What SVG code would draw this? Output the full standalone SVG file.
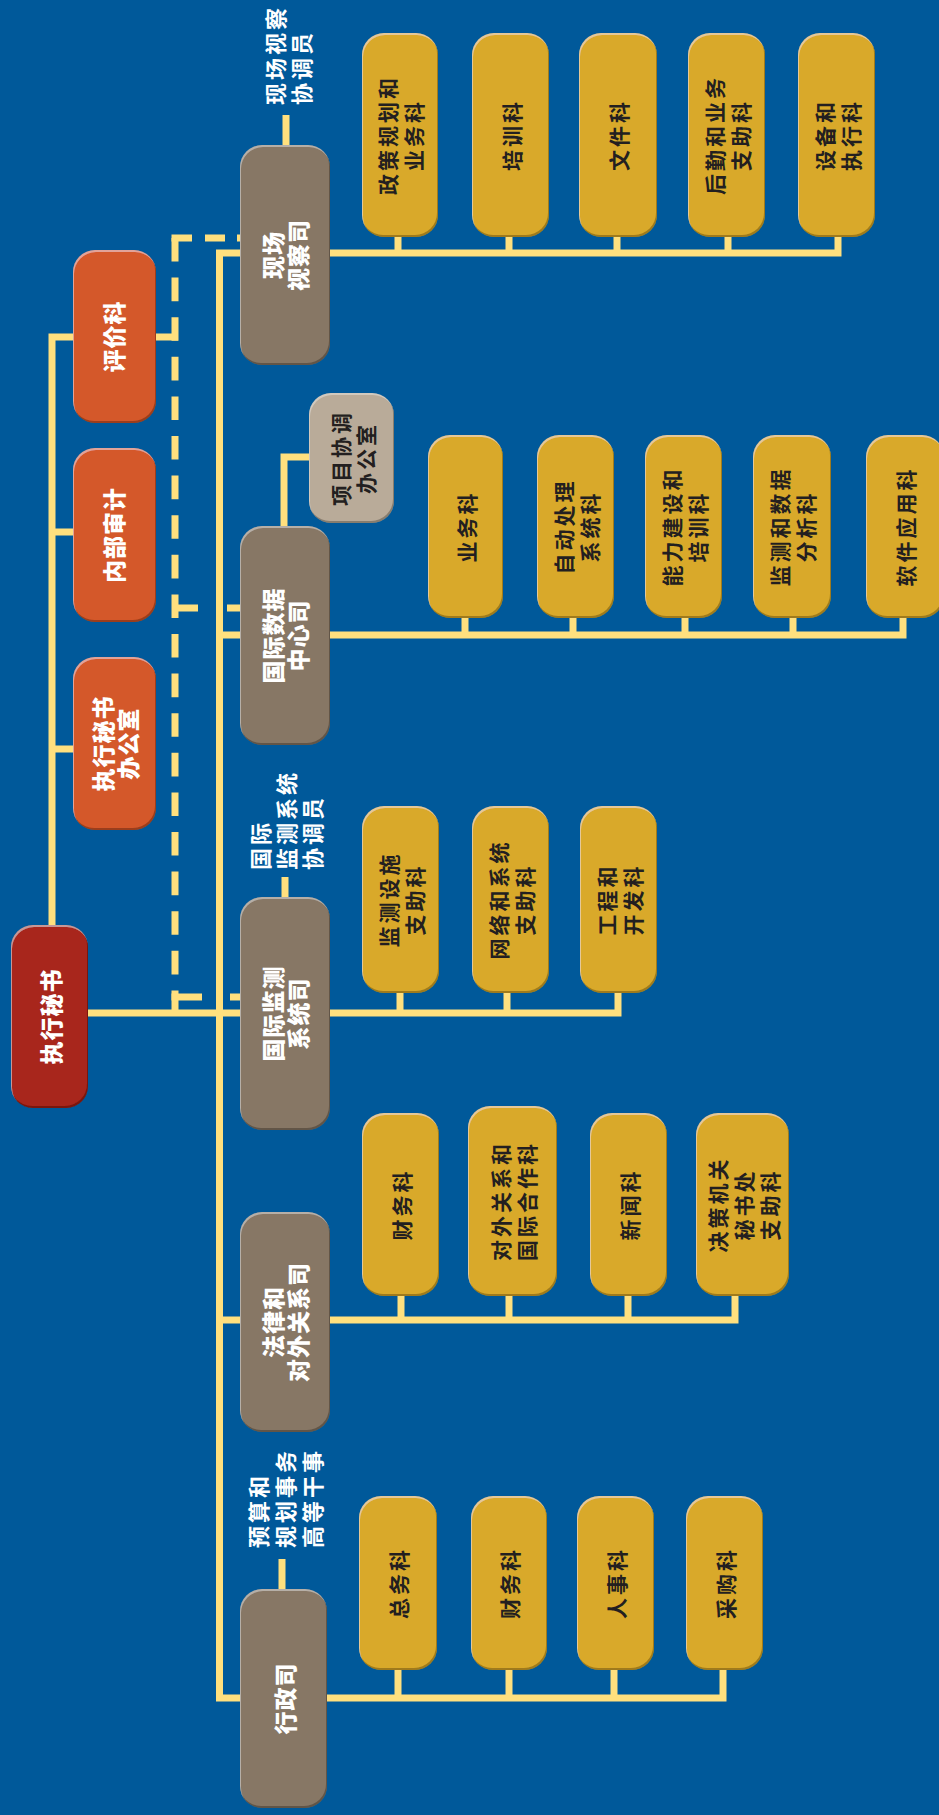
<svg xmlns="http://www.w3.org/2000/svg" width="939" height="1815" viewBox="0 0 939 1815">
<defs>
<filter id="bev" x="-5%" y="-5%" width="110%" height="110%">
<feOffset in="SourceAlpha" dx="-1.5" dy="-2.5" result="o1"/>
<feComposite in="SourceAlpha" in2="o1" operator="out" result="e1"/>
<feGaussianBlur in="e1" stdDeviation="0.6" result="e1b"/>
<feFlood flood-color="#000" flood-opacity="0.5"/>
<feComposite in2="e1b" operator="in" result="dark"/>
<feOffset in="SourceAlpha" dx="1" dy="1.5" result="o2"/>
<feComposite in="SourceAlpha" in2="o2" operator="out" result="e2"/>
<feFlood flood-color="#fff" flood-opacity="0.3"/>
<feComposite in2="e2" operator="in" result="light"/>
<feMerge><feMergeNode in="SourceGraphic"/><feMergeNode in="dark"/><feMergeNode in="light"/></feMerge>
</filter>
</defs>
<style>
.ln{fill:none;stroke:#FFE07E;stroke-width:7;stroke-linejoin:miter}
.dash{stroke-dasharray:23.6 16}
rect{filter:url(#bev)}
.red{fill:#A8281E}
.org{fill:#D4582A}
.tau{fill:#877765}
.lt{fill:#B9AB99}
.gold{fill:#D9A92B}
text,tspan{font-family:"Noto Sans CJK SC","Noto Sans",sans-serif;dominant-baseline:central}
.w{fill:#fff;font-size:23px;font-weight:900;letter-spacing:1px;text-anchor:middle}
.d{fill:#231F20;font-size:21px;font-weight:700;letter-spacing:3px;text-anchor:middle}
.lb{fill:#fff;font-size:22px;font-weight:700;letter-spacing:3px;text-anchor:start}
</style>
<rect x="0" y="0" width="939" height="1815" fill="#00599A" style="filter:none"/>
<g id="connectors">
<path class="ln" d="M73,337H52V925M52,532H73M52,749H73M156,337H178"/>
<path class="ln" d="M240,253H219.5V1698H240M219.5,635H240M219.5,1320H240"/>
<path class="ln dash" d="M175,238V1010"/>
<path class="ln" d="M171.5,238H192M205,238H225M237,238H240M175,608H198M227,608H240M171.5,997H202M230,997H240"/>
<path class="ln" d="M330,253H838V237M398,237V253M509,237V253M617,237V253M728,237V253"/>
<path class="ln" d="M330,635H903V618M465,618V635M573,618V635M685,618V635M793,618V635"/>
<path class="ln" d="M284,526V457H309"/>
<path class="ln" d="M88,1013H618V993M400,993V1013M507,993V1013"/>
<path class="ln" d="M330,1320H735V1296M401,1296V1320M509,1296V1320M628,1296V1320"/>
<path class="ln" d="M327,1698H723V1670M398,1670V1698M509,1670V1698M614,1670V1698"/>
<path class="ln" d="M286,115V145M285,877V897M282,1559V1589"/>
</g>
<g id="exec"><rect class="red" x="11" y="925" width="77" height="183" rx="22"/>
<text class="w" transform="translate(49.5,1016.5) rotate(-90)"><tspan x="0" y="0">执行秘书</tspan></text></g>
<g id="eval"><rect class="org" x="73" y="250" width="83" height="173" rx="22"/>
<text class="w" transform="translate(113,336.5) rotate(-90)"><tspan x="0" y="0">评价科</tspan></text></g>
<g id="audit"><rect class="org" x="73" y="448" width="83" height="174" rx="22"/>
<text class="w" transform="translate(113,535) rotate(-90)"><tspan x="0" y="0">内部审计</tspan></text></g>
<g id="office"><rect class="org" x="73" y="657" width="83" height="173" rx="22"/>
<text class="w" transform="translate(114,743.5) rotate(-90)"><tspan x="0" y="-12.5">执行秘书</tspan><tspan x="0" y="12.5">办公室</tspan></text></g>
<g id="osi"><rect class="tau" x="240" y="145" width="90" height="220" rx="22"/>
<text class="w" transform="translate(284,255) rotate(-90)"><tspan x="0" y="-12.5">现场</tspan><tspan x="0" y="12.5">视察司</tspan></text></g>
<g id="idc"><rect class="tau" x="240" y="526" width="90" height="219" rx="22"/>
<text class="w" transform="translate(284,635.5) rotate(-90)"><tspan x="0" y="-12.5">国际数据</tspan><tspan x="0" y="12.5">中心司</tspan></text></g>
<g id="ims"><rect class="tau" x="240" y="897" width="90" height="233" rx="22"/>
<text class="w" transform="translate(284,1013.5) rotate(-90)"><tspan x="0" y="-12.5">国际监测</tspan><tspan x="0" y="12.5">系统司</tspan></text></g>
<g id="legal"><rect class="tau" x="240" y="1212" width="90" height="220" rx="22"/>
<text class="w" transform="translate(284,1322) rotate(-90)"><tspan x="0" y="-12.5">法律和</tspan><tspan x="0" y="12.5">对外关系司</tspan></text></g>
<g id="admin"><rect class="tau" x="240" y="1589" width="87" height="219" rx="22"/>
<text class="w" transform="translate(283.5,1698.5) rotate(-90)"><tspan x="0" y="0">行政司</tspan></text></g>
<g id="pco"><rect class="lt" x="309" y="393" width="85" height="130" rx="22"/>
<text class="d" transform="translate(352,458) rotate(-90)"><tspan x="0" y="-12.5">项目协调</tspan><tspan x="0" y="12.5">办公室</tspan></text></g>
<g id="lbl-osi"><text class="lb" transform="translate(0,105) rotate(-90)"><tspan x="0" y="274">现场视察</tspan><tspan x="0" y="300">协调员</tspan></text></g>
<g id="lbl-ims"><text class="lb" transform="translate(0,870) rotate(-90)"><tspan x="0" y="259">国际</tspan><tspan x="0" y="285">监测系统</tspan><tspan x="0" y="311">协调员</tspan></text></g>
<g id="lbl-admin"><text class="lb" transform="translate(0,1548) rotate(-90)"><tspan x="0" y="257">预算和</tspan><tspan x="0" y="284">规划事务</tspan><tspan x="0" y="311">高等干事</tspan></text></g>
<g id="osi-1"><rect class="gold" x="362" y="33" width="76" height="204" rx="22"/>
<text class="d" transform="translate(400,135) rotate(-90)"><tspan x="0" y="-13">政策规划和</tspan><tspan x="0" y="13">业务科</tspan></text></g>
<g id="osi-2"><rect class="gold" x="472" y="33" width="77" height="204" rx="22"/>
<text class="d" transform="translate(510.5,135) rotate(-90)"><tspan x="0" y="0">培训科</tspan></text></g>
<g id="osi-3"><rect class="gold" x="579" y="33" width="78" height="204" rx="22"/>
<text class="d" transform="translate(618,135) rotate(-90)"><tspan x="0" y="0">文件科</tspan></text></g>
<g id="osi-4"><rect class="gold" x="688" y="33" width="77" height="204" rx="22"/>
<text class="d" transform="translate(726.5,135) rotate(-90)"><tspan x="0" y="-13">后勤和业务</tspan><tspan x="0" y="13">支助科</tspan></text></g>
<g id="osi-5"><rect class="gold" x="798" y="33" width="77" height="204" rx="22"/>
<text class="d" transform="translate(836.5,135) rotate(-90)"><tspan x="0" y="-13">设备和</tspan><tspan x="0" y="13">执行科</tspan></text></g>
<g id="idc-1"><rect class="gold" x="428" y="435" width="75" height="183" rx="22"/>
<text class="d" transform="translate(465.5,526.5) rotate(-90)"><tspan x="0" y="0">业务科</tspan></text></g>
<g id="idc-2"><rect class="gold" x="537" y="435" width="77" height="183" rx="22"/>
<text class="d" transform="translate(575.5,526.5) rotate(-90)"><tspan x="0" y="-13">自动处理</tspan><tspan x="0" y="13">系统科</tspan></text></g>
<g id="idc-3"><rect class="gold" x="645" y="435" width="77" height="183" rx="22"/>
<text class="d" transform="translate(683.5,526.5) rotate(-90)"><tspan x="0" y="-13">能力建设和</tspan><tspan x="0" y="13">培训科</tspan></text></g>
<g id="idc-4"><rect class="gold" x="753" y="435" width="78" height="183" rx="22"/>
<text class="d" transform="translate(792,526.5) rotate(-90)"><tspan x="0" y="-13">监测和数据</tspan><tspan x="0" y="13">分析科</tspan></text></g>
<g id="idc-5"><rect class="gold" x="866" y="435" width="78" height="183" rx="22"/>
<text class="d" transform="translate(904.5,526.5) rotate(-90)"><tspan x="0" y="0">软件应用科</tspan></text></g>
<g id="ims-1"><rect class="gold" x="362" y="806" width="77" height="187" rx="22"/>
<text class="d" transform="translate(400.5,899.5) rotate(-90)"><tspan x="0" y="-13">监测设施</tspan><tspan x="0" y="13">支助科</tspan></text></g>
<g id="ims-2"><rect class="gold" x="472" y="806" width="77" height="187" rx="22"/>
<text class="d" transform="translate(510.5,899.5) rotate(-90)"><tspan x="0" y="-13">网络和系统</tspan><tspan x="0" y="13">支助科</tspan></text></g>
<g id="ims-3"><rect class="gold" x="580" y="806" width="77" height="187" rx="22"/>
<text class="d" transform="translate(618.5,899.5) rotate(-90)"><tspan x="0" y="-13">工程和</tspan><tspan x="0" y="13">开发科</tspan></text></g>
<g id="legal-1"><rect class="gold" x="362" y="1113" width="77" height="183" rx="22"/>
<text class="d" transform="translate(400.5,1204.5) rotate(-90)"><tspan x="0" y="0">财务科</tspan></text></g>
<g id="legal-2"><rect class="gold" x="468" y="1106" width="89" height="190" rx="22"/>
<text class="d" transform="translate(513,1201) rotate(-90)"><tspan x="0" y="-13">对外关系和</tspan><tspan x="0" y="13">国际合作科</tspan></text></g>
<g id="legal-3"><rect class="gold" x="590" y="1113" width="77" height="183" rx="22"/>
<text class="d" transform="translate(628.5,1204.5) rotate(-90)"><tspan x="0" y="0">新闻科</tspan></text></g>
<g id="legal-4"><rect class="gold" x="696" y="1113" width="93" height="183" rx="22"/>
<text class="d" transform="translate(742.5,1204.5) rotate(-90)"><tspan x="0" y="-26">决策机关</tspan><tspan x="0" y="0">秘书处</tspan><tspan x="0" y="26">支助科</tspan></text></g>
<g id="admin-1"><rect class="gold" x="359" y="1496" width="78" height="174" rx="22"/>
<text class="d" transform="translate(398,1583) rotate(-90)"><tspan x="0" y="0">总务科</tspan></text></g>
<g id="admin-2"><rect class="gold" x="471" y="1496" width="76" height="174" rx="22"/>
<text class="d" transform="translate(509,1583) rotate(-90)"><tspan x="0" y="0">财务科</tspan></text></g>
<g id="admin-3"><rect class="gold" x="577" y="1496" width="77" height="174" rx="22"/>
<text class="d" transform="translate(615.5,1583) rotate(-90)"><tspan x="0" y="0">人事科</tspan></text></g>
<g id="admin-4"><rect class="gold" x="686" y="1496" width="77" height="174" rx="22"/>
<text class="d" transform="translate(724.5,1583) rotate(-90)"><tspan x="0" y="0">采购科</tspan></text></g>
</svg>
